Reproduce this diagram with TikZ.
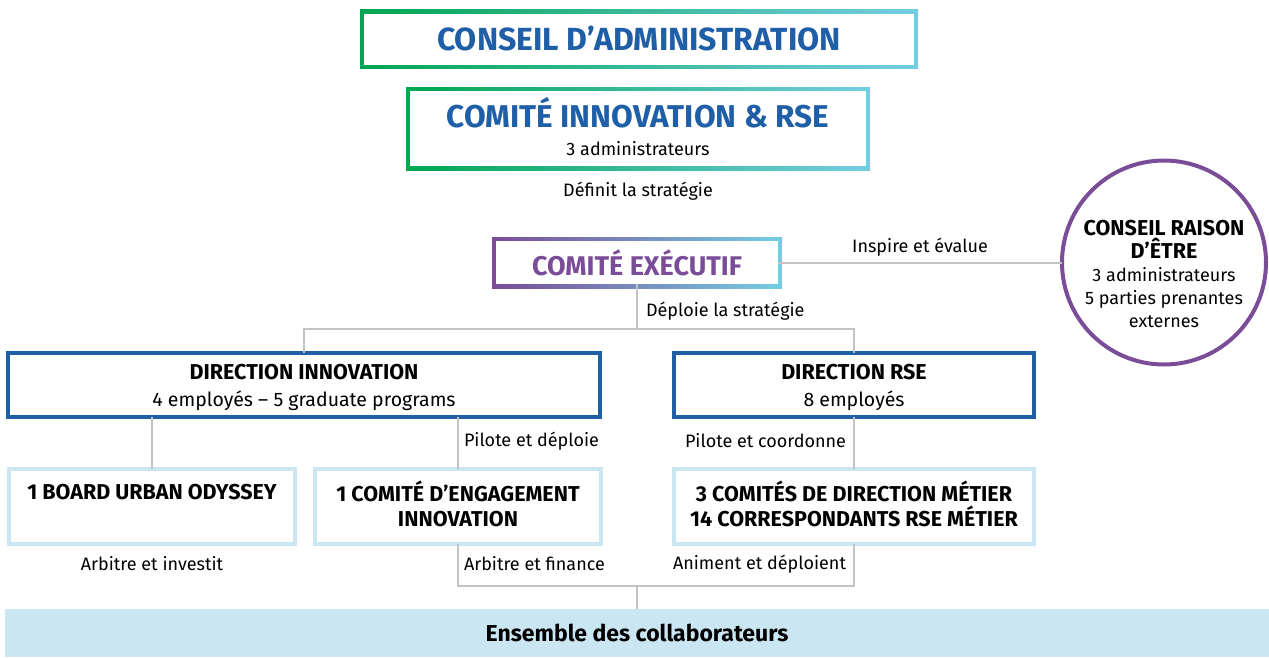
\documentclass[tikz,border=0pt]{standalone}
\usepackage{fontspec}
\setmainfont{Fira Sans}
\usepackage{tikz}
\usetikzlibrary{positioning, calc, backgrounds}
\definecolor{cagreen}{HTML}{00A651}
\definecolor{cablue}{HTML}{1F5FA8}
\definecolor{calight}{HTML}{74CDE3}
\definecolor{capurple}{HTML}{7B4C97}
\definecolor{dirblue}{HTML}{1F5FA6}
\definecolor{paleblue}{HTML}{C9E6F2}
\definecolor{linkgray}{HTML}{C3C3C3}

\begin{document}
\begin{tikzpicture}[x=1pt, y=-1pt,
	every node/.style={inner sep=0pt, outer sep=0pt},
	gradbox/.style={fill=white, align=center, text=cablue},
	dirbox/.style={draw=dirblue, line width=4pt, fill=white, align=center, font=\fontsize{19.5}{27}\selectfont},
	subbox/.style={draw=paleblue, line width=4pt, fill=white, align=center, font=\bfseries\fontsize{21.5}{25}\selectfont},
	link/.style={draw=linkgray, line width=2pt},
	lbl/.style={font=\fontsize{18}{22}\selectfont}]
		\useasboundingbox (0,0) rectangle (1269,657);
		\pgfmathsetmacro{\bw}{4}
		
		% gouvernance
		\node[gradbox, minimum width=550pt, minimum height=51pt, font=\bfseries\fontsize{32}{36}\selectfont] (ca) at (639,39) {CONSEIL D’ADMINISTRATION};
		\node[gradbox, minimum width=456pt, minimum height=75pt, text depth=4pt] (cirse) at (638,128.5) {{\bfseries\fontsize{31.5}{34}\selectfont COMITÉ INNOVATION \& RSE}\\[12pt]{\color{black}\fontsize{18}{22}\selectfont 3 administrateurs}};
		\node[lbl] (definit) at (638,191) {Définit la stratégie};
		\node[gradbox, text=capurple, minimum width=282pt, minimum height=43pt, font=\bfseries\fontsize{27}{30}\selectfont] (comex) at (637,262.5) {COMITÉ EXÉCUTIF};
		\begin{scope}[on background layer]
			\shade[left color=cagreen, middle color=cablue, right color=calight] ($(ca.south west)+(-\bw pt,-\bw pt)$) rectangle ($(ca.north east)+(\bw pt,\bw pt)$);
			\shade[left color=cagreen, middle color=cablue, right color=calight] ($(cirse.south west)+(-\bw pt,-\bw pt)$) rectangle ($(cirse.north east)+(\bw pt,\bw pt)$);
			\shade[left color=capurple, middle color=cablue, right color=calight] ($(comex.south west)+(-\bw pt,-\bw pt)$) rectangle ($(comex.north east)+(\bw pt,\bw pt)$);
		\end{scope}
		
		% raison d'etre
		\node[draw=capurple, line width=4pt, circle, minimum size=204pt] (cre) at (1164,262.5) {};
		\node[align=center, font=\fontsize{18}{23}\selectfont] (cretext) at (1164,274) {{\bfseries\fontsize{21.5}{25}\selectfont CONSEIL RAISON}\\{\bfseries\fontsize{21.5}{25}\selectfont D’ÊTRE}\\3 administrateurs\\5 parties prenantes\\externes};
		\draw[link] (comex.east) -- node[lbl, above=6pt] (inspire) {Inspire et évalue} (cre.west);
		
		% directions
		\node[dirbox, minimum width=592pt, minimum height=64pt, text depth=-6pt] (di) at (304,385) {{\bfseries\fontsize{21.5}{25}\selectfont DIRECTION INNOVATION}\\4 employés – 5 graduate programs};
		\node[dirbox, minimum width=360pt, minimum height=64pt, text depth=-6pt] (drse) at (854,385) {{\bfseries\fontsize{21.5}{25}\selectfont DIRECTION RSE}\\8 employés};
		\coordinate (split1) at (637,329);
		\draw[link] (comex.south) -- (split1);
		\draw[link] (di.north) |- (split1) -| (drse.north);
		\node[lbl, anchor=west] (deploie) at (646,311) {Déploie la stratégie};
		
		% comites
		\node[subbox, minimum width=286pt, minimum height=75pt, text depth=30pt] (board) at (152,506.5) {1 BOARD URBAN ODYSSEY};
		\node[subbox, minimum width=286pt, minimum height=75pt, text depth=6pt] (cei) at (458,506.5) {1 COMITÉ D’ENGAGEMENT\\INNOVATION};
		\node[subbox, minimum width=360pt, minimum height=75pt, text depth=6pt] (metier) at (854,506.5) {3 COMITÉS DE DIRECTION MÉTIER\\14 CORRESPONDANTS RSE MÉTIER};
		\draw[link] (board.north) -- (board.north |- di.south);
		\draw[link] (cei.north) -- (cei.north |- di.south);
		\draw[link] (metier.north) -- (drse.south);
		\node[lbl, anchor=west] (pilote1) at (464,441) {Pilote et déploie};
		\node[lbl, anchor=east] (pilote2) at (846,441) {Pilote et coordonne};
		
		% collaborateurs
		\node[fill=paleblue, minimum width=1264pt, minimum height=48pt, font=\bfseries\fontsize{23}{25}\selectfont] (staff) at (637,633) {Ensemble des collaborateurs};
		\coordinate (split2) at (637,586);
		\draw[link] (cei.south) |- (split2) -| (metier.south);
		\draw[link] (split2) -- (staff.north);
		\node[lbl] (arbitre1) at (152,564) {Arbitre et investit};
		\node[lbl, anchor=west] (arbitre2) at (464,564) {Arbitre et finance};
		\node[lbl, anchor=east] (animent) at (846,564) {Animent et déploient};
\end{tikzpicture}
\end{document}
